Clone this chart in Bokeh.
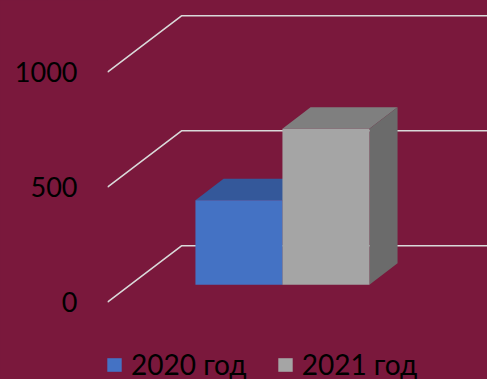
from bokeh.plotting import figure
from bokeh.models import Range1d, FixedTicker, LinearAxis, Legend, LegendItem
from bokeh.embed import file_html
from bokeh.resources import INLINE

# ---- data ----
categories = ["2020 год", "2021 год"]
values = [367, 678]
y_ticks = [0, 500, 1000]

# ---- style ----
BG = "#7A183C"
front_colors = ["#4472C4", "#A5A5A5"]
top_colors = ["#34589A", "#7F7F7F"]
side_colors = ["#2B4B86", "#6B6B6B"]
GRID = "#D9D9D9"

W, H = 487, 379
LEFT = 107
PX_PER_UNIT = 0.23
Y0_PX = 301.7                      # pixel row of value 0 on the front plane
y_lo = (Y0_PX - H) / PX_PER_UNIT
y_hi = Y0_PX / PX_PER_UNIT

# oblique projection of depth: d in [0,1] shifts right and up
DX = 74.0                 # x-data units (pixels) to the back wall
DY = 56.4 / PX_PER_UNIT   # value units to the back wall
D_FRONT, D_BACK = 0.31, 0.69
FLOOR_W = 304.0
BAR_W = 87.0

def proj(x, v, d):
    return x + d * DX, v + d * DY

p = figure(width=W, height=H, output_backend="svg", toolbar_location=None,
           x_range=Range1d(0, W - LEFT), y_range=Range1d(y_lo, y_hi),
           min_border_left=LEFT, min_border_right=0, min_border_top=0,
           min_border_bottom=0, x_axis_location=None, y_axis_location=None)
p.background_fill_color = BG
p.border_fill_color = BG
p.outline_line_color = None
p.styles = {"background-color": BG}
p.xgrid.visible = False
p.ygrid.visible = False

# perspective gridlines
gx, gy = [], []
for t in y_ticks:
    xa, ya = proj(0, t, 0)
    xb, yb = proj(0, t, 1)
    gx.append([xa, xb, W - LEFT + 5])
    gy.append([ya, yb, yb])
p.multi_line(gx, gy, line_color=GRID, line_width=1.6)

# 3D bars
n = len(categories)
x_start = FLOOR_W / 2 - n * BAR_W / 2
front_renderers = []
for i, (cat, v) in enumerate(zip(categories, values)):
    x0 = x_start + i * BAR_W
    x1 = x0 + BAR_W
    # top face
    pts = [proj(x0, v, D_FRONT), proj(x1, v, D_FRONT), proj(x1, v, D_BACK), proj(x0, v, D_BACK)]
    p.patch([a for a, b in pts], [b for a, b in pts], fill_color=top_colors[i], line_color=None)
    # right side face
    pts = [proj(x1, 0, D_FRONT), proj(x1, 0, D_BACK), proj(x1, v, D_BACK), proj(x1, v, D_FRONT)]
    p.patch([a for a, b in pts], [b for a, b in pts], fill_color=side_colors[i], line_color=None)
    # front face
    pts = [proj(x0, 0, D_FRONT), proj(x1, 0, D_FRONT), proj(x1, v, D_FRONT), proj(x0, v, D_FRONT)]
    r = p.patch([a for a, b in pts], [b for a, b in pts], fill_color=front_colors[i], line_color=None)
    front_renderers.append(r)

# y axis
yaxis = LinearAxis(ticker=FixedTicker(ticks=y_ticks))
yaxis.axis_line_color = None
yaxis.major_tick_out = 0
yaxis.major_tick_in = 0
yaxis.minor_tick_out = 0
yaxis.minor_tick_in = 0
yaxis.major_label_standoff = 30
yaxis.major_label_text_font = "Lato"
yaxis.major_label_text_font_size = "27px"
yaxis.major_label_text_color = "black"
p.add_layout(yaxis, "left")

legend = Legend(items=[LegendItem(label=c, renderers=[r]) for c, r in zip(categories, front_renderers)],
                orientation="horizontal", location=(-2, -2),
                label_text_font="Lato", label_text_font_size="28px", label_text_color="black",
                glyph_width=18, glyph_height=17, label_standoff=8, spacing=29,
                padding=0, margin=0, border_line_color=None, background_fill_alpha=0)
p.add_layout(legend, "center")

open("out.html", "w").write(file_html(p, INLINE))
